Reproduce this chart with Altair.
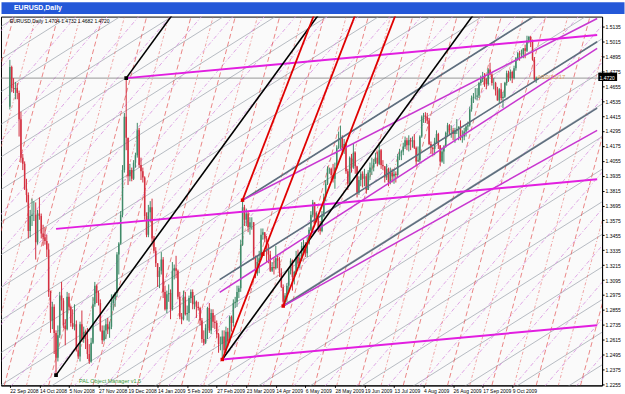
import altair as alt
import pandas as pd

# ---------------- data (prices in pips above 1.0000) ----------------
OPEN = [4490, 4810, 4640, 4630, 4640, 4600, 4390, 4080, 4030, 3830,
        3780, 3490, 3610, 3620, 3620, 3400, 3630, 3610, 3470, 3440,
        3410, 3340, 3000, 2770, 2880, 2670, 2470, 2650, 2970, 2930,
        2730, 2700, 2960, 2880, 2750, 2720, 2740, 2530, 2480, 2740,
        2620, 2680, 2620, 2500, 2440, 2590, 2900, 3050, 2990, 2910,
        2690, 2610, 2690, 2740, 2700, 2720, 2910, 2940, 2990, 3300,
        3390, 3620, 3980, 4410, 4240, 3930, 3980, 3910, 4040,
        4100, 4300, 4020, 3970,
        3920, 3610, 3460, 3640, 3680, 3430, 3330, 3230, 3120, 3170,
        3260, 3000, 2860, 2980, 2990, 2860, 3170, 3190, 3170, 2960,
        2800, 2780, 2960, 2820, 2830, 2950, 3000, 2900, 2920, 2880,
        2870, 2770, 2620, 2590, 2710, 2870, 2690, 2830, 2760, 2750,
        2660, 2580, 2580, 2640, 2530, 2680, 2600, 2800, 2750, 2910,
        2920, 3000, 3030, 3380, 3680, 3580, 3630, 3520, 3560, 3560,
        3290, 3150, 3240, 3270, 3460, 3480, 3430, 3380, 3300, 3170,
        3200, 3190, 3270, 3250, 3150, 3040, 2920, 2970, 3050, 3170,
        3250, 3120, 3160, 3280, 3230, 3270, 3370, 3370, 3310, 3390,
        3500, 3620, 3720, 3570, 3610, 3520, 3490, 3610, 3760, 3870,
        3990, 3990, 3940, 3910, 4000, 4160, 4170, 4240, 4150, 4190,
        3970, 3870, 4080, 4000, 4120, 4010, 3800, 3900, 3950, 3910,
        3930, 3820, 3960, 4000, 4000, 4040, 4080, 4030, 4140, 4020,
        4010, 3920, 3990, 3880, 3960, 3930, 3950, 3940, 4090, 4120,
        4130, 4170, 4220, 4180, 4220, 4210, 4220, 4160, 4050, 4060,
        4250, 4410, 4420, 4410, 4380, 4190, 4160, 4150, 4210, 4270,
        4180, 4050, 4130, 4170, 4280, 4340, 4300, 4300, 4270, 4300,
        4310, 4330, 4240, 4250, 4290, 4330, 4340, 4470, 4560, 4570,
        4570, 4580, 4680, 4710, 4730, 4710, 4670, 4790, 4750, 4680,
        4680, 4620, 4540, 4630, 4560, 4570, 4680, 4760, 4720, 4770,
        4720, 4800, 4880, 4920, 4910, 4910, 4960, 4940, 5020, 5050,
        5010, 4870, 4704]
HIGH = [4867, 4820, 4720, 4690, 4680, 4620, 4450, 4110, 4050, 3910,
        3800, 3660, 3750, 3730, 3720, 3660, 3760, 3630, 3540, 3520,
        3460, 3390, 3010, 2920, 2900, 2690, 2730, 3000, 3080, 2950,
        2780, 3000, 2990, 2890, 2860, 2900, 2770, 2570, 2760, 2850,
        2720, 2690, 2710, 2580, 2630, 2960, 3080, 3060, 3010, 2940,
        2730, 2730, 2780, 2790, 2760, 2980, 2980, 3000, 3320, 3400,
        3650, 4020, 4440, 4720, 4240, 4030, 4000, 4060, 4120,
        4360, 4320, 4080, 4000,
        3930, 3640, 3700, 3730, 3750, 3450, 3360, 3230, 3200, 3320,
        3280, 3050, 3010, 3060, 3020, 3240, 3220, 3290, 3180, 3000,
        2830, 3010, 3000, 2890, 2970, 3020, 3020, 2970, 2930, 2920,
        2880, 2790, 2690, 2740, 2880, 2910, 2860, 2860, 2810, 2770,
        2670, 2640, 2690, 2690, 2720, 2710, 2810, 2810, 2940, 2960,
        3050, 3050, 3420, 3738, 3700, 3670, 3650, 3600, 3600, 3560,
        3290, 3290, 3330, 3510, 3510, 3480, 3450, 3390, 3330, 3240,
        3270, 3370, 3290, 3280, 3190, 3060, 2990, 3070, 3190, 3270,
        3260, 3170, 3330, 3340, 3300, 3400, 3420, 3400, 3440, 3520,
        3650, 3740, 3720, 3640, 3630, 3570, 3650, 3790, 3900, 4010,
        4000, 4000, 4030, 4040, 4180, 4290, 4338, 4260, 4230, 4200,
        3990, 4090, 4110, 4190, 4130, 4010, 3930, 3970, 3970, 3990,
        3950, 3980, 4040, 4080, 4070, 4120, 4130, 4190, 4150, 4060,
        4010, 4030, 4000, 4000, 3990, 3990, 3970, 4110, 4150, 4140,
        4200, 4250, 4240, 4260, 4240, 4250, 4270, 4170, 4170, 4260,
        4420, 4440, 4446, 4440, 4400, 4210, 4170, 4240, 4300, 4280,
        4180, 4160, 4180, 4290, 4360, 4350, 4340, 4320, 4320, 4390,
        4330, 4380, 4300, 4320, 4340, 4370, 4490, 4580, 4600, 4640,
        4640, 4690, 4740, 4770, 4760, 4720, 4800, 4844, 4760, 4720,
        4690, 4650, 4640, 4680, 4610, 4690, 4780, 4780, 4790, 4780,
        4820, 4890, 4930, 4940, 4950, 4960, 4990, 5061, 5060, 5060,
        5030, 4890, 4732]
LOW = [4468, 4610, 4600, 4550, 4550, 4250, 4040, 3980, 3820, 3720,
       3430, 3440, 3530, 3570, 3260, 3380, 3580, 3430, 3370, 3380,
       3280, 2960, 2670, 2700, 2500, 2330, 2440, 2630, 2850, 2710,
       2570, 2690, 2850, 2720, 2700, 2690, 2520, 2460, 2440, 2600,
       2590, 2540, 2460, 2420, 2430, 2580, 2880, 2910, 2890, 2680,
       2580, 2600, 2620, 2660, 2630, 2700, 2850, 2880, 2960, 3140,
       3380, 3600, 3960, 4140, 3860, 3890, 3890, 3900, 4000,
       4080, 4000, 3900, 3880,
       3580, 3440, 3440, 3560, 3400, 3310, 3200, 3040, 3030, 3140,
       2950, 2850, 2830, 2920, 2780, 2850, 3100, 3110, 2940, 2780,
       2740, 2770, 2810, 2770, 2760, 2910, 2860, 2860, 2790, 2850,
       2730, 2590, 2570, 2580, 2620, 2670, 2660, 2710, 2700, 2630,
       2510, 2530, 2456, 2510, 2510, 2560, 2590, 2680, 2720, 2870,
       2880, 2950, 3000, 3370, 3530, 3530, 3480, 3460, 3500, 3260,
       3110, 3130, 3150, 3270, 3420, 3400, 3240, 3230, 3160, 3160,
       3140, 3180, 3190, 3120, 3030, 2886, 2890, 2920, 2990, 3140,
       3010, 3060, 3140, 3210, 3190, 3250, 3310, 3280, 3280, 3380,
       3490, 3600, 3550, 3560, 3480, 3460, 3480, 3600, 3730, 3860,
       3950, 3900, 3880, 3830, 3990, 4150, 4150, 4100, 4110, 3950,
       3820, 3860, 3960, 3990, 3950, 3760, 3780, 3850, 3840, 3850,
       3790, 3820, 3900, 3940, 3970, 4030, 4010, 4020, 3990, 3980,
       3880, 3900, 3850, 3870, 3880, 3870, 3880, 3920, 4060, 4060,
       4100, 4150, 4140, 4130, 4140, 4160, 4150, 4010, 4050, 4040,
       4240, 4360, 4360, 4350, 4180, 4110, 4090, 4100, 4190, 4150,
       4010, 4040, 4030, 4160, 4250, 4270, 4240, 4220, 4200, 4270,
       4220, 4220, 4200, 4220, 4250, 4300, 4330, 4450, 4520, 4550,
       4540, 4560, 4660, 4690, 4650, 4630, 4660, 4740, 4660, 4630,
       4580, 4540, 4520, 4540, 4480, 4560, 4660, 4690, 4700, 4680,
       4710, 4780, 4860, 4860, 4880, 4880, 4880, 4930, 5000, 4970,
       4860, 4700, 4682]
CLOSE = [4810, 4640, 4630, 4640, 4600, 4390, 4080, 4030, 3830, 3780,
         3490, 3610, 3620, 3620, 3400, 3630, 3610, 3470, 3440, 3410,
         3340, 3000, 2770, 2880, 2670, 2470, 2650, 2970, 2930, 2730,
         2700, 2960, 2880, 2750, 2720, 2740, 2530, 2480, 2740, 2620,
         2680, 2620, 2500, 2440, 2590, 2900, 3050, 2990, 2910, 2690,
         2610, 2690, 2740, 2700, 2720, 2910, 2940, 2990, 3300, 3390,
         3620, 3980, 4410, 4240, 3930, 3980, 3910, 4040, 4100,
         4300, 4020, 3970, 3920,
         3610, 3460, 3640, 3680, 3430, 3330, 3230, 3120, 3170, 3260,
         3000, 2860, 2980, 2990, 2860, 3170, 3190, 3170, 2960, 2800,
         2780, 2960, 2820, 2830, 2950, 3000, 2900, 2920, 2880, 2870,
         2770, 2620, 2590, 2710, 2870, 2690, 2830, 2760, 2750, 2660,
         2580, 2580, 2640, 2530, 2680, 2600, 2800, 2750, 2910, 2920,
         3000, 3030, 3380, 3680, 3580, 3630, 3520, 3560, 3560, 3290,
         3150, 3240, 3270, 3460, 3480, 3430, 3380, 3300, 3170, 3200,
         3190, 3270, 3250, 3150, 3040, 2920, 2970, 3050, 3170, 3250,
         3120, 3160, 3280, 3230, 3270, 3370, 3370, 3310, 3390, 3500,
         3620, 3720, 3570, 3610, 3520, 3490, 3610, 3760, 3870, 3990,
         3990, 3940, 3910, 4000, 4160, 4170, 4240, 4150, 4190, 3970,
         3870, 4080, 4000, 4120, 4010, 3800, 3900, 3950, 3910, 3930,
         3820, 3960, 4000, 4000, 4040, 4080, 4030, 4140, 4020, 4010,
         3920, 3990, 3880, 3960, 3930, 3950, 3940, 4090, 4120, 4130,
         4170, 4220, 4180, 4220, 4210, 4220, 4160, 4050, 4060, 4250,
         4410, 4420, 4410, 4380, 4190, 4160, 4150, 4210, 4270, 4180,
         4050, 4130, 4170, 4280, 4340, 4300, 4300, 4270, 4300, 4310,
         4330, 4240, 4250, 4290, 4330, 4340, 4470, 4560, 4570, 4570,
         4580, 4680, 4710, 4730, 4710, 4670, 4790, 4750, 4680, 4680,
         4620, 4540, 4630, 4560, 4570, 4680, 4760, 4720, 4770, 4720,
         4800, 4880, 4920, 4910, 4910, 4960, 4940, 5020, 5050, 5010,
         4870, 4710, 4720]

DATE_LABELS = ["22 Sep 2008", "14 Oct 2008", "5 Nov 2008", "27 Nov 2008",
               "19 Dec 2008", "14 Jan 2009", "5 Feb 2009", "27 Feb 2009",
               "23 Mar 2009", "14 Apr 2009", "6 May 2009", "28 May 2009",
               "19 Jun 2009", "13 Jul 2009", "4 Aug 2009", "26 Aug 2009",
               "17 Sep 2009", "9 Oct 2009"]
LABEL_BARS = [0, 16, 32, 48, 64, 80, 96, 112, 128, 144, 160, 176, 192,
              208, 224, 240, 256, 272]
PRICE_TICKS = [1.2255, 1.2375, 1.2495, 1.2615, 1.2735, 1.2855, 1.2975,
               1.3095, 1.3215, 1.3335, 1.3455, 1.3575, 1.3695, 1.3815,
               1.3935, 1.4055, 1.4175, 1.4295, 1.4415, 1.4535, 1.4655,
               1.4775, 1.4895, 1.5015, 1.5135]

LAST_PRICE = 1.4720
HEADER = "EURUSD,Daily  1.4704 1.4732 1.4682 1.4720"

# background line families: bar where each line crosses the bottom price
RED_A_CROSS = [-51, -27, -3, 21, 45, 69, 93, 117, 141, 165, 189, 213, 237,
               261, 285, 309]
RED_B_CROSS = [-39, -15, 9, 33, 57, 81, 105, 129, 153, 177, 201, 225, 249,
               273, 297]
PINK_CROSS = [-169, -152, -135, -118, -101, -84, -67, -50, -33, -16, 1, 18,
              35, 52, 69, 86, 103, 120, 137, 154, 171, 188, 205, 222, 239,
              256, 273, 290, 307]
GRAY_CROSS = [-313, -285, -257, -229, -201, -173, -145, -117, -89, -61, -33,
              -5, 23, 51, 79, 107, 135, 163, 191, 219, 247, 275, 303]
RED_SLOPE = 0.00559
PINK_SLOPE = 0.001738
GRAY_SLOPE = 0.000937

# drawn objects: (bar1, price1, bar2, price2)
BLACK_LINES = [(25, 1.2330, 175, 1.5390), (63, 1.4720, 100, 1.5475),
               (115, 1.2456, 260, 1.5414)]
RED_LINES = [(126, 1.3738, 166, 1.5278), (115, 1.2456, 190, 1.5344),
             (148, 1.2886, 212, 1.5350)]
MAG_THICK = [(63, 1.4720, 318, 1.5067), (25, 1.3507, 318, 1.3906),
             (115, 1.2456, 318, 1.2732)]
SLATE_LINES = [(126, 1.3738, 318, 1.5537), (113.6, 1.3098, 318, 1.5013),
               (148, 1.2886, 318, 1.4479)]
MAG_MED = [(113.6, 1.2995, 318, 1.4959), (126, 1.3738, 318, 1.5200),
           (148, 1.2886, 318, 1.4300)]
BLACK_PTS = [(25, 1.2330), (63, 1.4720)]
RED_PTS = [(115, 1.2456), (126, 1.3738), (148, 1.2886), (137, 1.3303)]

X_DOMAIN = [-2.1, 317.96]
Y_DOMAIN = [1.22474, 1.52152]

# ---------------- tables ----------------
n = len(CLOSE)
candles = pd.DataFrame({
    "x": list(range(n)),
    "o": [1 + v / 1e4 for v in OPEN],
    "h": [1 + v / 1e4 for v in HIGH],
    "l": [1 + v / 1e4 for v in LOW],
    "c": [1 + v / 1e4 for v in CLOSE],
})
candles["dir"] = ["up" if c >= o else "down" for o, c in zip(candles.o, candles.c)]


def family(cross, slope, tag):
    rows = []
    span = (Y_DOMAIN[1] - Y_DOMAIN[0]) / slope + 10
    for k, b in enumerate(cross):
        for dx in (-10, span):
            rows.append({"x": b + dx, "y": Y_DOMAIN[0] + dx * slope, "id": f"{tag}{k}"})
    return pd.DataFrame(rows)


def segs(lst, tag):
    rows = []
    for k, (x1, y1, x2, y2) in enumerate(lst):
        rows.append({"x": x1, "y": y1, "id": f"{tag}{k}"})
        rows.append({"x": x2, "y": y2, "id": f"{tag}{k}"})
    return pd.DataFrame(rows)


FONT = "Liberation Sans"
XS = alt.Scale(domain=X_DOMAIN, nice=False, zero=False)
YS = alt.Scale(domain=Y_DOMAIN, nice=False, zero=False)
label_expr = "[" + ",".join(f"'{d}'" for d in DATE_LABELS) + "][round(datum.value/16)]"
XAX = alt.Axis(values=LABEL_BARS, labelExpr=label_expr, labelAlign="left",
               labelFontSize=5, labelFont=FONT, labelColor="black",
               tickSize=2, tickColor="black", domainColor="black",
               labelPadding=1, grid=False, title=None, labelOverlap=False,
               labelFlush=False, minExtent=11, maxExtent=11)
YAX = alt.Axis(values=PRICE_TICKS, format=".4f", orient="right",
               labelFontSize=5, labelFont=FONT, labelColor="black",
               tickSize=2, tickColor="black", domainColor="black",
               labelPadding=1, grid=False, title=None, labelOverlap=False,
               labelFlush=False, minExtent=22, maxExtent=22)


def X(f="x"):
    return alt.X(f, type="quantitative", scale=XS, axis=XAX)


def Y(f="y"):
    return alt.Y(f, type="quantitative", scale=YS, axis=YAX)


def line_layer(df, color, width, dash=None, opacity=1.0):
    kw = dict(color=color, strokeWidth=width, clip=True, opacity=opacity)
    if dash:
        kw["strokeDash"] = dash
    return alt.Chart(df).mark_line(**kw).encode(x=X(), y=Y(), detail="id:N")


layers = [
    line_layer(family(GRAY_CROSS, GRAY_SLOPE, "g"), "#98a0aa", 0.7),
    line_layer(family(PINK_CROSS, PINK_SLOPE, "p"), "#d890e0", 0.8, [4, 2, 1, 2]),
    line_layer(family(RED_B_CROSS, RED_SLOPE, "rb"), "#e87070", 0.7, [3, 2, 1, 2], 0.9),
    line_layer(family(RED_A_CROSS, RED_SLOPE, "ra"), "#e04040", 0.7, [5, 3], 0.9),
    alt.Chart(pd.DataFrame({"y": [LAST_PRICE]})).mark_rule(
        color="#808080", strokeWidth=0.8).encode(y=Y()),
]

ccol = alt.Color("dir:N", scale=alt.Scale(domain=["up", "down"],
                                          range=["#3f8a68", "#d43040"]), legend=None)
layers.append(alt.Chart(candles).mark_rule(strokeWidth=1, clip=True).encode(
    x=X(), y=Y("l"), y2="h", color=ccol))
layers.append(alt.Chart(candles).mark_bar(width=1.5, clip=True).encode(
    x=X(), y=Y("o"), y2="c", color=ccol))

layers += [
    line_layer(segs(SLATE_LINES, "s"), "#5e6e7e", 1.6),
    line_layer(segs(MAG_MED, "mm"), "#c837d0", 1.5),
    line_layer(segs(MAG_THICK, "mt"), "#e21ee0", 2.0),
    line_layer(segs(BLACK_LINES, "b"), "#000000", 1.6),
    line_layer(segs(RED_LINES, "r"), "#e00000", 1.8),
]

pts_b = pd.DataFrame(BLACK_PTS, columns=["x", "y"])
pts_r = pd.DataFrame(RED_PTS, columns=["x", "y"])
layers.append(alt.Chart(pts_b).mark_square(size=14, color="black", opacity=1).encode(x=X(), y=Y()))
layers.append(alt.Chart(pts_r).mark_square(size=12, color="#e00000", opacity=1).encode(x=X(), y=Y()))

texts = pd.DataFrame([
    {"x": 0.0, "y": 1.5180, "t": HEADER},
])
layers.append(alt.Chart(texts).mark_text(align="left", baseline="middle", font=FONT,
                                         fontSize=5, color="black").encode(x=X(), y=Y(), text="t:N"))
layers.append(alt.Chart(pd.DataFrame([{"x": 37.5, "y": 1.2279, "t": "PAL Object Manager v1.5"}]))
              .mark_text(align="left", baseline="middle", font=FONT, fontSize=5.5,
                         color="#3a9a3a").encode(x=X(), y=Y(), text="t:N"))
layers.append(alt.Chart(pd.DataFrame([{"x": 285.5, "y": 1.4726, "t": "4/10/15/17"}]))
              .mark_text(align="left", baseline="middle", font=FONT, fontSize=6,
                         color="#e0a060").encode(x=X(), y=Y(), text="t:N"))

# last-price badge on the price axis
layers.append(alt.Chart(pd.DataFrame([{"x": 318.6, "x2": 328.8, "y": 1.4764, "y2": 1.4697}]))
              .mark_rect(color="black", clip=False).encode(x=X(), x2="x2", y=Y(), y2="y2"))
layers.append(alt.Chart(pd.DataFrame([{"x": 319.3, "y": LAST_PRICE, "t": "1.4720"}]))
              .mark_text(align="left", baseline="middle", font=FONT, fontSize=5,
                         color="white", clip=False).encode(x=X(), y=Y(), text="t:N"))

main = alt.layer(*layers).properties(
    width=603, height=370,
    view=alt.ViewBackground(fill="#fafafa", stroke="#000000", strokeWidth=1))

title_bar = alt.Chart(pd.DataFrame({"t": ["EURUSD,Daily"]})).mark_text(
    align="left", baseline="middle", color="white", font=FONT, fontSize=7,
    fontWeight="bold").encode(text="t:N", x=alt.value(13), y=alt.value(6)).properties(
    width=625, height=12,
    view=alt.ViewBackground(fill="#2458d8", stroke="transparent"))

chart = alt.vconcat(title_bar, main, spacing=1).properties(
    padding=0, background="white")

chart.save("out.html", embed_options={"renderer": "svg", "actions": False})
